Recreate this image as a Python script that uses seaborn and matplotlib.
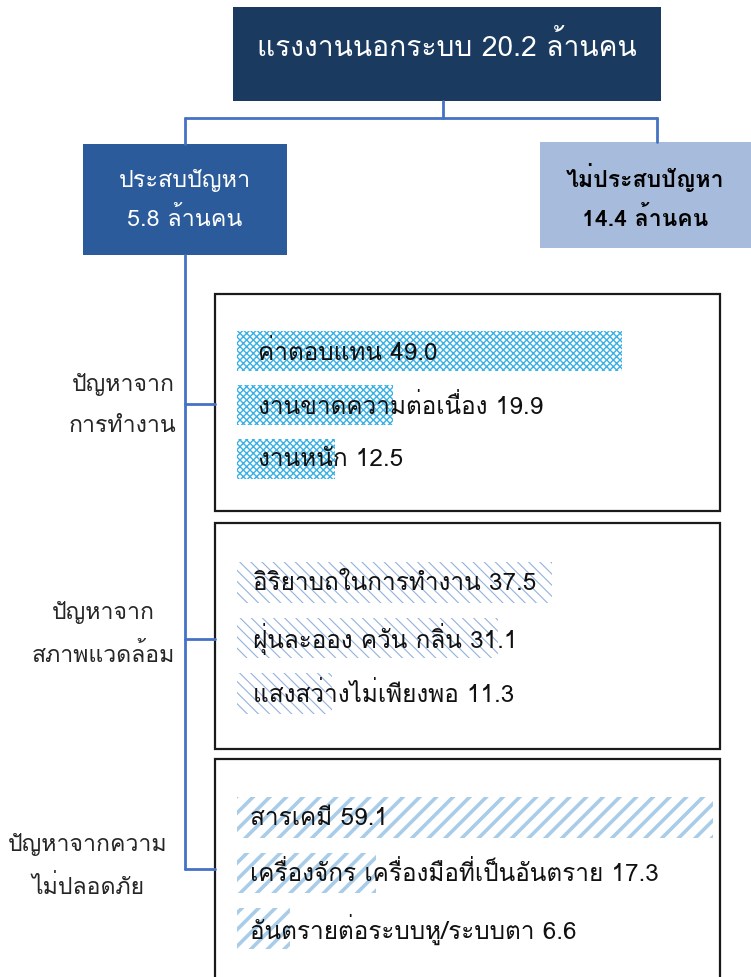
import matplotlib
matplotlib.use("Agg")
import matplotlib.pyplot as plt
from matplotlib.patches import Rectangle
from matplotlib import font_manager
from matplotlib.ft2font import FT2Font
import pandas as pd
import seaborn as sns

# data
total_label = "แรงงานนอกระบบ 20.2 ล้านคน"
hit_label = ["ประสบปัญหา", "5.8 ล้านคน"]
nohit_label = ["ไม่ประสบปัญหา", "14.4 ล้านคน"]

group_names = [
    ["ปัญหาจาก", "การทำงาน"],
    ["ปัญหาจาก", "สภาพแวดล้อม"],
    ["ปัญหาจากความ", "ไม่ปลอดภัย"],
]
work_items = ["ค่าตอบแทน", "งานขาดความต่อเนื่อง", "งานหนัก"]
work_values = [49.0, 19.9, 12.5]
env_items = ["อิริยาบถในการทำงาน", "ฝุ่นละออง ควัน กลิ่น", "แสงสว่างไม่เพียงพอ"]
env_values = [37.5, 31.1, 11.3]
safety_items = ["สารเคมี", "เครื่องจักร เครื่องมือที่เป็นอันตราย", "อันตรายต่อระบบหู/ระบบตา"]
safety_values = [59.1, 17.3, 6.6]

sns.set_style("white")

# find a font that can draw Thai, fall back to DejaVu
thai_font = None
for f in font_manager.fontManager.ttflist:
    try:
        if 0x0E01 in FT2Font(f.fname).get_charmap():
            thai_font = f.name
            break
    except Exception:
        pass
plt.rcParams['font.family'] = [thai_font, 'DejaVu Sans'] if thai_font else ['DejaVu Sans']

W, H = 751, 978
fig = plt.figure(figsize=(W / 100, H / 100), dpi=100)
bg = fig.add_axes([0, 0, 1, 1])
bg.set_xlim(0, W)
bg.set_ylim(H, 0)
bg.axis('off')

line_blue = '#4472c4'

# top box + branches
bg.add_patch(Rectangle((233, 8), 428, 94, facecolor='#1b3a60', edgecolor='none'))
bg.text(447, 47, total_label, color='white', fontsize=20.3, ha='center', va='center')
bg.plot([443, 443], [102, 119], color=line_blue, lw=2)
bg.plot([185, 657], [119, 119], color=line_blue, lw=2)
bg.plot([185, 185], [119, 145], color=line_blue, lw=2)
bg.plot([657, 657], [119, 143], color=line_blue, lw=2)

bg.add_patch(Rectangle((83, 145), 204, 111, facecolor='#2b5b9b', edgecolor='none'))
bg.text(185, 180, hit_label[0], color='white', fontsize=16.8, ha='center', va='center')
bg.text(185, 219, hit_label[1], color='white', fontsize=16.8, ha='center', va='center')

bg.add_patch(Rectangle((540, 143), 215, 106, facecolor='#a7bcdc', edgecolor='none'))
bg.text(645, 178, nohit_label[0], color='black', fontsize=16.6, ha='center', va='center', fontweight='bold')
bg.text(645, 218, nohit_label[1], color='black', fontsize=16.6, ha='center', va='center', fontweight='bold')

# left spine with connectors
bg.plot([185, 185], [256, 870], color=line_blue, lw=2)
for yy in [405, 640, 870]:
    bg.plot([185, 215], [yy, yy], color=line_blue, lw=2)

# group boxes
boxes = [(295, 512), (524, 750), (760, 995)]
for top, bot in boxes:
    bg.add_patch(Rectangle((215, top), 505, bot - top, facecolor='white', edgecolor='#1a1a1a', lw=1.6))

# group labels
label_pos = [(123, 384, 426), (103, 612, 655), (88, 845, 887)]
for names, (cx, y1, y2) in zip(group_names, label_pos):
    bg.text(cx, y1, names[0], fontsize=16.6, ha='center', va='center')
    bg.text(cx, y2, names[1], fontsize=16.6, ha='center', va='center')

# bar panels
panels = [
    (work_items, work_values, 325, 487, 7.85, 'xxxxx', '#3ab0e4', 1.0, 258),
    (env_items, env_values, 556, 722, 8.4, '\\\\\\', '#93b2de', 0.8, 253),
    (safety_items, safety_values, 791, 957, 8.05, '//', '#a9cde8', 2.6, 250),
]
x0 = 237
for items, values, ytop, ybot, scale, hatch, hcol, hlw, tx in panels:
    ax = fig.add_axes([x0 / W, 1 - ybot / H, (720 - x0) / W, (ybot - ytop) / H])
    df = pd.DataFrame({'item': items, 'value': values})
    sns.barplot(data=df, x='value', y='item', orient='h', ax=ax,
                color='white', width=0.74, saturation=1)
    for p in ax.patches:
        p.set_hatch(hatch)
        p.set_edgecolor(hcol)
        p.set_linewidth(0)
        if hasattr(p, 'set_hatch_linewidth'):
            p.set_hatch_linewidth(hlw)
    ax.set_xlim(0, (720 - x0) / scale)
    ax.set_facecolor('none')
    ax.axis('off')
    for i, (name, v) in enumerate(zip(items, values)):
        ax.text((tx - x0) / scale, i, f"{name} {v:.1f}", fontsize=17.5,
                ha='left', va='center', color='#111111')

fig.savefig("out.png", dpi=100)
